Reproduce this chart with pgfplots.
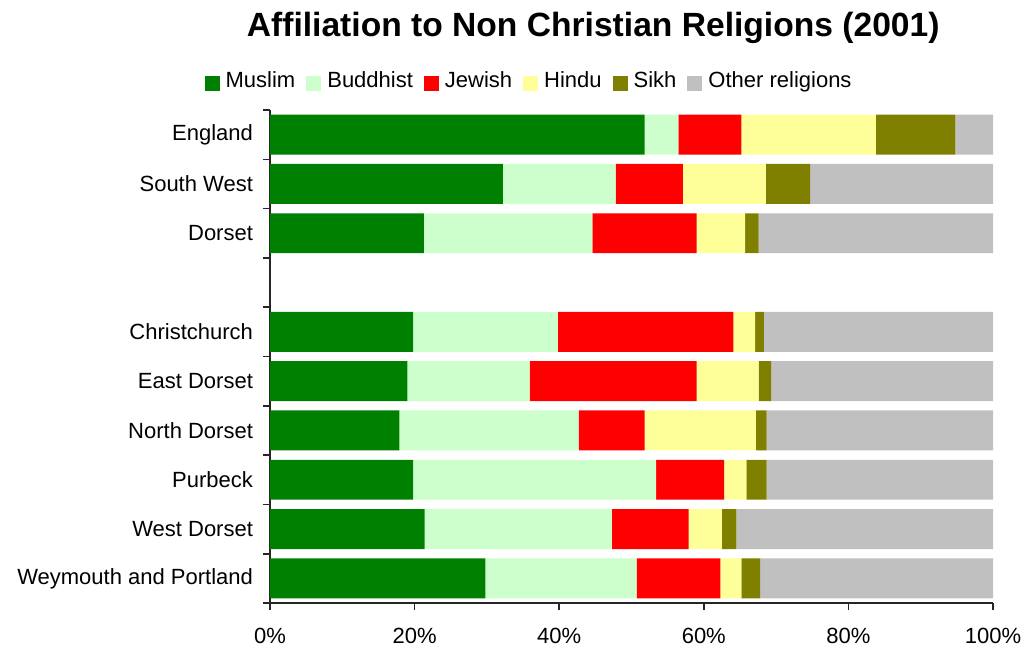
\documentclass[border=0pt]{standalone}
\usepackage{fontspec}
\setmainfont{Liberation Sans}
\usepackage{pgfplots}
\usepackage{pgfplotstable}
\pgfplotsset{compat=1.18}
\definecolor{cMuslim}{HTML}{008000}
\definecolor{cBuddhist}{HTML}{CCFFCC}
\definecolor{cJewish}{HTML}{FF0000}
\definecolor{cHindu}{HTML}{FFFF99}
\definecolor{cSikh}{HTML}{808000}
\definecolor{cOther}{HTML}{C0C0C0}
\pgfplotstableread{
y Muslim Buddhist Jewish Hindu Sikh Other
9 51.8 4.7 8.7 18.6 11.0 5.2
8 32.2 15.6 9.3 11.5 6.1 25.3
7 21.3 23.3 14.4 6.7 1.9 32.4
5 19.8 20.0 24.3 3.0 1.2 31.7
4 19.0 16.9 23.1 8.6 1.7 30.7
3 17.9 24.8 9.1 15.4 1.5 31.3
2 19.8 33.6 9.4 3.1 2.8 31.3
1 21.4 25.9 10.6 4.6 2.0 35.5
0 29.8 20.9 11.6 2.9 2.6 32.2
}\datatable
\begin{document}
\begin{tikzpicture}
\begin{axis}[
  scale only axis, width=361.5pt, height=246.5pt,
  xbar stacked, bar width=0.81,
  xmin=0, xmax=100, ymin=-0.5, ymax=9.5,
  axis x line*=bottom, axis y line*=left,
  axis line style={black!85, line width=0.8pt},
  tick align=outside, major tick length=3.5pt,
  tick style={black!85, line width=0.8pt},
  xtick={0,20,...,100},
  xticklabel={\pgfmathprintnumber{\tick}\%},
  xticklabel style={yshift=-5.5pt},
  ytick={-0.5,0.5,...,9.5}, yticklabels={},
  extra y ticks={0,...,9},
  extra y tick labels={Weymouth and Portland,West Dorset,Purbeck,North Dorset,East Dorset,Christchurch,,Dorset,South West,England},
  extra y tick style={tick style={draw=none}, yticklabel style={xshift=-1.5pt}},
  ticklabel style={font=\fontsize{11}{13}\selectfont},
  /pgf/number format/assume math mode=true,
  legend columns=6,
  legend style={at={(0.357,1.058)}, anchor=center, draw=none, fill=none,
    font=\fontsize{11}{13}\selectfont,
    nodes={inner sep=0pt},
    /tikz/every odd column/.append style={column sep=3pt},
    /tikz/every even column/.append style={column sep=5.5pt}},
  legend image code/.code={\fill[#1] (0pt,-5pt) rectangle (7.5pt,2.5pt);},
  clip=false,
]
\addplot[fill=cMuslim, draw=none] table[x=Muslim, y=y] {\datatable};
\addplot[fill=cBuddhist, draw=none] table[x=Buddhist, y=y] {\datatable};
\addplot[fill=cJewish, draw=none] table[x=Jewish, y=y] {\datatable};
\addplot[fill=cHindu, draw=none] table[x=Hindu, y=y] {\datatable};
\addplot[fill=cSikh, draw=none] table[x=Sikh, y=y] {\datatable};
\addplot[fill=cOther, draw=none] table[x=Other, y=y] {\datatable};
\legend{Muslim,Buddhist,Jewish,Hindu,Sikh,Other religions}
\node[anchor=base, font=\fontsize{16.8}{20}\selectfont\bfseries] at (axis description cs:0.447,1.150) {Affiliation to Non Christian Religions (2001)};
\path (rel axis cs:0,0) ++(-135pt,-22.5pt) coordinate (bbsw);
\path (rel axis cs:1,1) ++(15pt,55pt) coordinate (bbne);
\end{axis}
\pgfresetboundingbox
\useasboundingbox (bbsw) rectangle (bbne);
\end{tikzpicture}
\end{document}
